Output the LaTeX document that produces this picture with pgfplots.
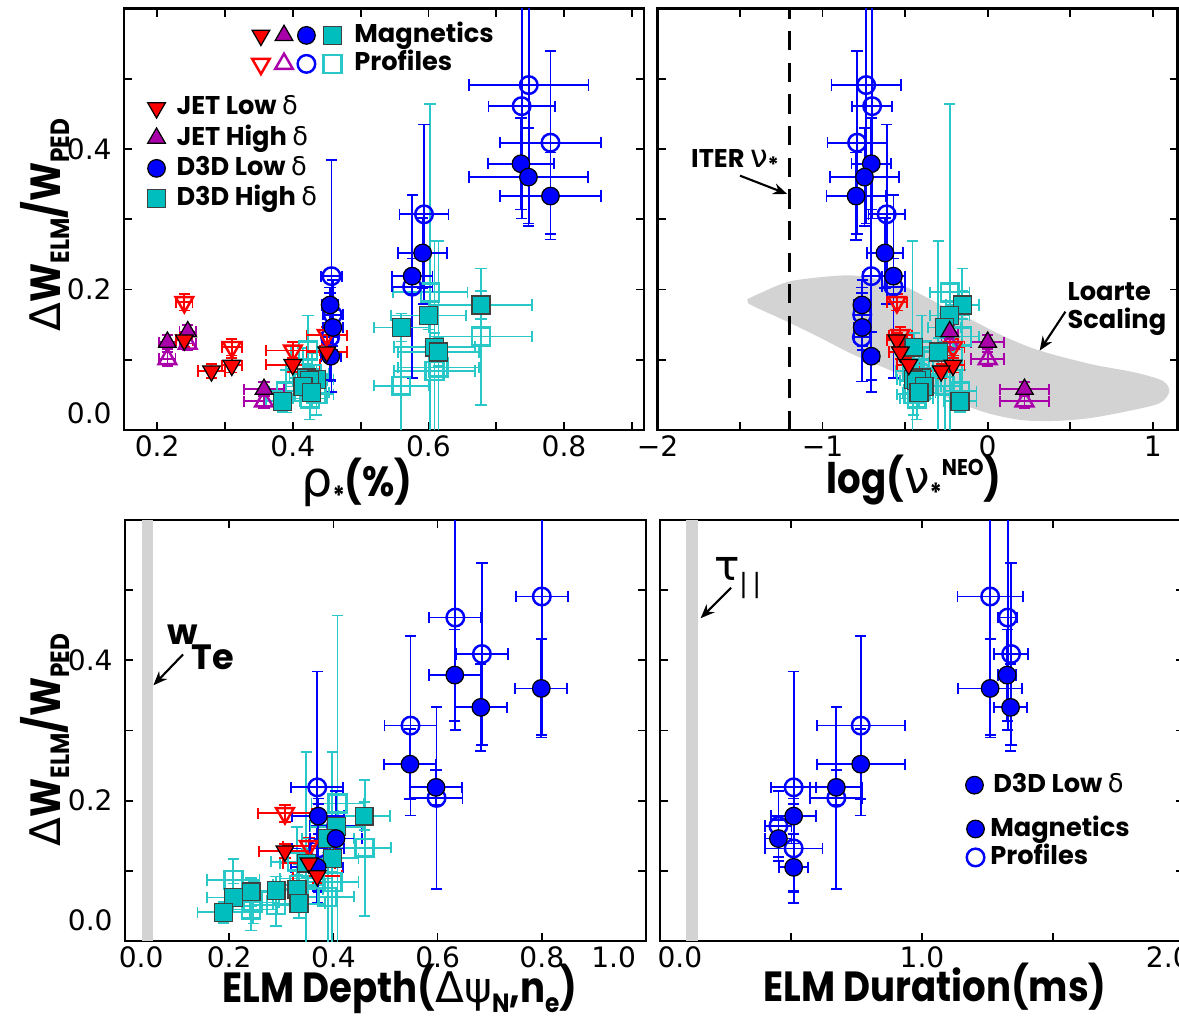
\documentclass[border=0pt]{standalone}
\usepackage{fontspec}
\setmainfont{Poppins}
\newfontfamily\gr{DejaVu Sans}
\newfontfamily\tickfamily{DejaVu Sans}
\newfontfamily\labfam{Poppins}[FakeStretch=0.88]
\usepackage{pgfplots}
\pgfplotsset{compat=1.18}
\usepackage{pgfplotstable}
\usetikzlibrary{arrows.meta}

\definecolor{jhcol}{RGB}{170,0,170}
\definecolor{dhfill}{RGB}{0,190,190}
\definecolor{dhline}{RGB}{40,200,200}
\definecolor{shade}{RGB}{211,211,211}

\newcommand\g[1]{{\gr\mdseries #1}}
\newcommand\ticksz{\tickfamily\fontsize{8}{9}\selectfont}
\newcommand\legfont{\fontsize{7.3}{8}\selectfont\bfseries}
\newcommand\labfont{\labfam\fontsize{12}{14}\selectfont\bfseries}
\newcommand\lo[1]{\raisebox{-0.4ex}{\fontsize{7.5}{7.5}\selectfont #1}}
\newcommand\hi[1]{\raisebox{0.75ex}{\fontsize{6.5}{6.5}\selectfont #1}}
% legend glyph: x, mark, rotate, fill, draw, size, line width
\newcommand{\lmk}[7]{\begin{scope}[shift={(#1,0)},rotate=#3]
  \pgfsetlinewidth{#7}\pgfsetstrokecolor{#5}\pgfsetfillcolor{#4}%
  \pgfsetplotmarksize{#6}\pgfuseplotmark{#2}\end{scope}}

% JET low delta
\pgfplotstableread{
rho    nu     dep   y     erho  enu  edep  eyp   eym
0.240 -0.550 0.307 0.128 0.012 0.06 0.050 0.010 0.010
0.450 -0.529 0.353 0.111 0.030 0.07 0.050 0.010 0.010
0.400 -0.478 0.369 0.093 0.040 0.07 0.047 0.010 0.010
0.310 -0.210 nan   0.092 0.015 0.07 0     0.010 0.010
0.280 -0.282 nan   0.084 0.020 0.07 0     0.010 0.010
}\jlF
\pgfplotstableread{
rho    nu     dep   y     erho  enu  edep  eyp   eym
0.240 -0.550 0.307 0.182 0.012 0.06 0.052 0.012 0.012
0.450 -0.529 0.353 0.135 0.030 0.07 0.050 0.012 0.012
0.400 -0.478 nan   0.113 0.040 0.07 0     0.012 0.012
0.310 -0.210 nan   0.118 0.015 0.07 0     0.012 0.012
}\jlO
% JET high delta
\pgfplotstableread{
rho    nu     y     erho  enu  eyp   eym
0.215  0.000 0.125 0.012 0.10 0.010 0.010
0.245 -0.230 0.140 0.012 0.05 0.010 0.010
0.3575 0.223 0.058 0.030 0.15 0.010 0.010
}\jhF
\pgfplotstableread{
rho    nu     y     erho  enu  eyp   eym
0.215  0.000 0.101 0.012 0.10 0.010 0.010
0.245 -0.230 0.123 0.012 0.05 0.010 0.010
0.3575 0.223 0.041 0.030 0.15 0.010 0.010
}\jhO
% D3D low delta
\pgfplotstableread{
rho    nu     dep   dur   y     erho  enu  edep edur  eyp   eym
0.7365 -0.705 0.633 1.325 0.379 0.049 0.12 0.05 0.035 0.065 0.065
0.7475 -0.746 0.799 1.260 0.360 0.088 0.21 0.05 0.123 0.070 0.070
0.780  -0.797 0.683 1.338 0.333 0.074 0.18 0.05 0.064 0.062 0.062
0.5915 -0.622 0.547 0.766 0.252 0.036 0.11 0.05 0.168 0.050 0.050
0.576  -0.571 0.597 0.673 0.219 0.030 0.07 0.05 0.100 0.025 0.025
0.455  -0.762 0.371 0.510 0.178 0.012 0.05 0.05 0.085 0.025 0.025
0.459  -0.760 0.405 0.452 0.146 0.015 0.05 0.05 0.050 0.026 0.026
0.456  -0.705 0.369 0.510 0.105 0.015 0.05 0.05 0.056 0.034 0.034
}\dlF
\pgfplotstableread{
rho    nu     dep   dur   y     erho  enu  edep edur  eyp   eym
0.7375 -0.700 0.634 1.327 0.461 0.049 0.12 0.05 0.036 0.160 0.160
0.748  -0.736 0.800 1.260 0.491 0.088 0.21 0.05 0.125 0.197 0.197
0.780  -0.791 0.685 1.340 0.409 0.074 0.18 0.05 0.064 0.130 0.130
0.5935 -0.612 0.548 0.766 0.307 0.036 0.11 0.05 0.168 0.128 0.128
0.576  -0.571 0.598 0.673 0.204 0.030 0.07 0.05 0.100 0.130 0.130
0.455  -0.762 0.371 0.510 0.132 0.012 0.05 0.05 0.110 0.063 0.063
0.459  -0.760 0.405 0.452 0.164 0.015 0.05 0.05 0.050 0.050 0.050
0.457  -0.705 0.369 0.510 0.219 0.015 0.05 0.05 0.085 0.165 0.165
}\dlO
% D3D high delta
\pgfplotstableread{
rho    nu     dep   y     erho  enu  edep eyp   eym
0.6775 -0.154 0.459 0.178 0.075 0.10 0.05 0.020 0.020
0.600  -0.230 0.406 0.163 0.055 0.12 0.05 0.020 0.020
0.560  -0.260 0.389 0.146 0.040 0.10 0.05 0.020 0.020
0.609  -0.447 0.398 0.118 0.060 0.10 0.05 0.020 0.020
0.615  -0.300 0.348 0.111 0.060 0.10 0.05 0.020 0.020
0.420  -0.400 0.330 0.074 0.025 0.10 0.05 0.020 0.020
0.435  -0.450 0.290 0.072 0.025 0.10 0.05 0.020 0.020
0.425  -0.430 0.242 0.070 0.025 0.10 0.05 0.020 0.020
0.415  -0.385 0.208 0.062 0.025 0.10 0.05 0.020 0.020
0.428  -0.416 0.334 0.053 0.025 0.10 0.05 0.020 0.020
0.385  -0.168 0.189 0.041 0.025 0.10 0.05 0.015 0.015
}\dhF
\pgfplotstableread{
rho    nu     dep   y     erho  enu  edep eyp   eym
0.6025 -0.230 0.408 0.196 0.055 0.12 0.05 0.268 0.300
0.6775 -0.154 0.460 0.133 0.075 0.10 0.05 0.097 0.097
0.560  -0.260 0.389 0.063 0.040 0.10 0.05 0.070 0.100
0.609  -0.455 0.398 0.084 0.060 0.10 0.05 0.185 0.200
0.615  -0.300 0.348 0.089 0.060 0.10 0.05 0.180 0.200
0.4225 -0.400 0.330 0.113 0.025 0.10 0.05 0.050 0.050
0.435  -0.450 0.290 0.051 0.025 0.10 0.05 0.030 0.030
0.425  -0.430 0.242 0.045 0.025 0.10 0.05 0.030 0.030
0.415  -0.385 0.208 0.087 0.025 0.10 0.05 0.030 0.030
0.428  -0.416 0.334 0.080 0.025 0.10 0.05 0.030 0.030
0.390  -0.168 0.246 0.055 0.025 0.10 0.05 0.030 0.030
}\dhO

\pgfplotsset{
  panel/.style={scale only axis, anchor=south west, ymin=0, ymax=0.6,
    ytick={0.2,0.4}, yticklabels={0.2,0.4}, minor ytick={0.1,0.3,0.5},
    tick align=inside, major tick length=0.08cm, minor tick length=0.08cm,
    axis line style={line width=0.8pt}, every tick/.append style={black, line width=0.5pt},
    tick label style={font=\ticksz}, xticklabel style={inner sep=1.5pt}},
  zerolab/.style={extra y ticks={#1}, extra y tick labels={0.0},
    extra y tick style={major tick length=0pt}},
  eb/.style={error bars/x dir=both, error bars/x explicit, error bars/y dir=both, error bars/y explicit,
    error bars/error bar style={line width=0.5pt},
    error bars/error mark options={rotate=90, mark size=1.6pt, line width=0.5pt}},
  jlFs/.style={red, only marks, mark=triangle*, mark size=2.9pt, mark options={rotate=180, fill=red, draw=black, line width=0.35pt}},
  jlOs/.style={red, only marks, mark=triangle, mark size=2.9pt, mark options={rotate=180, draw=red, line width=0.7pt}},
  jhFs/.style={jhcol, only marks, mark=triangle*, mark size=2.9pt, mark options={fill=jhcol, draw=black, line width=0.35pt}},
  jhOs/.style={jhcol, only marks, mark=triangle, mark size=2.9pt, mark options={draw=jhcol, line width=0.7pt}},
  dlFs/.style={blue, only marks, mark=*, mark size=2.5pt, mark options={fill=blue, draw=black, line width=0.35pt}},
  dlOs/.style={blue, only marks, mark=o, mark size=2.5pt, mark options={draw=blue, line width=0.7pt}},
  dhFs/.style={dhline, only marks, mark=square*, mark size=2.55pt, mark options={fill=dhfill, draw=black!75, line width=0.35pt}},
  dhOs/.style={dhline, only marks, mark=square, mark size=2.55pt, mark options={draw=dhline, line width=0.7pt}},
  leg/.style={legend style={draw=none, fill=none, font=\legfont, inner sep=0pt,
    nodes={inner sep=0pt, text height=5.5pt, text depth=1.5pt, anchor=west}, legend cell align=left}},
  overlay/.style={anchor=south west, scale only axis, hide axis, xmin=0, xmax=1, ymin=0, ymax=1, leg},
}

\begin{document}
\begin{tikzpicture}
\useasboundingbox (0,0) rectangle (11.79cm,10.19cm);

% ---------- top left: rho_*
\begin{axis}[panel, zerolab=0.024, at={(1.24cm,5.89cm)}, width=5.2cm, height=4.215cm,
  xmin=0.151, xmax=0.918, xtick={0.2,0.4,0.6,0.8}, xticklabels={0.2,0.4,0.6,0.8},
  minor xtick={0.3,0.5,0.7,0.9}]
\addplot[dhOs, eb] table[x=rho, y=y, x error=erho, y error plus=eyp, y error minus=eym] {\dhO};
\addplot[dlOs, eb] table[x=rho, y=y, x error=erho, y error plus=eyp, y error minus=eym] {\dlO};
\addplot[jhOs, eb] table[x=rho, y=y, x error=erho, y error plus=eyp, y error minus=eym] {\jhO};
\addplot[jlOs, eb] table[x=rho, y=y, x error=erho, y error plus=eyp, y error minus=eym] {\jlO};
\addplot[dhFs, eb] table[x=rho, y=y, x error=erho, y error plus=eyp, y error minus=eym] {\dhF};
\addplot[dlFs, eb] table[x=rho, y=y, x error=erho, y error plus=eyp, y error minus=eym] {\dlF};
\addplot[jhFs, eb] table[x=rho, y=y, x error=erho, y error plus=eyp, y error minus=eym] {\jhF};
\addplot[jlFs, eb] table[x=rho, y=y, x error=erho, y error plus=eyp, y error minus=eym] {\jlF};
\end{axis}

% series legend
\begin{axis}[overlay, at={(1.24cm,5.89cm)}, width=5.2cm, height=4.215cm,
  legend style={at={(axis description cs:0.044,0.795)}, anchor=north west, row sep=1.6pt, column sep=0.11cm}]
\addlegendimage{legend image code/.code={\lmk{0.1cm}{triangle*}{180}{red}{black}{2.9pt}{0.35pt}}}
\addlegendentry{JET Low \g{δ}}
\addlegendimage{legend image code/.code={\lmk{0.1cm}{triangle*}{0}{jhcol}{black}{2.9pt}{0.35pt}}}
\addlegendentry{JET High \g{δ}}
\addlegendimage{legend image code/.code={\lmk{0.1cm}{*}{0}{blue}{black}{2.5pt}{0.35pt}}}
\addlegendentry{D3D Low \g{δ}}
\addlegendimage{legend image code/.code={\lmk{0.1cm}{square*}{0}{dhfill}{black!75}{2.55pt}{0.35pt}}}
\addlegendentry{D3D High \g{δ}}
\end{axis}

% header legend (Magnetics / Profiles)
\begin{axis}[overlay, at={(1.24cm,5.89cm)}, width=5.2cm, height=4.215cm,
  legend style={at={(axis description cs:0.245,0.967)}, anchor=north west, row sep=1.1pt, column sep=0.13cm}]
\addlegendimage{legend image code/.code={%
  \lmk{0.085cm}{triangle*}{180}{red}{black}{2.9pt}{0.35pt}%
  \lmk{0.316cm}{triangle*}{0}{jhcol}{black}{2.9pt}{0.35pt}%
  \lmk{0.54cm}{*}{0}{blue}{black}{2.5pt}{0.35pt}%
  \lmk{0.80cm}{square*}{0}{dhfill}{black!75}{2.55pt}{0.35pt}}}
\addlegendentry{Magnetics}
\addlegendimage{legend image code/.code={%
  \lmk{0.085cm}{triangle}{180}{red}{red}{2.9pt}{0.7pt}%
  \lmk{0.316cm}{triangle}{0}{jhcol}{jhcol}{2.9pt}{0.7pt}%
  \lmk{0.54cm}{o}{0}{blue}{blue}{2.5pt}{0.7pt}%
  \lmk{0.80cm}{square}{0}{dhline}{dhline}{2.55pt}{0.7pt}}}
\addlegendentry{Profiles}
\end{axis}

% ---------- top right: log nu_*
\begin{axis}[panel, at={(6.575cm,5.89cm)}, width=5.2cm, height=4.215cm, yticklabels={},
  xmin=-2, xmax=1.15, xtick={-2,-1,0,1}, xticklabels={−2,−1,0,1}, minor xtick={-1.5,-0.5,0.5}]
\addplot[fill=shade, draw=none, smooth, forget plot] coordinates {
 (-1.457,0.186) (-1.376,0.195) (-1.19,0.212) (-0.88,0.22) (-0.715,0.217) (-0.51,0.205)
 (-0.30,0.18) (-0.10,0.157) (0.11,0.132) (0.315,0.113) (0.62,0.094) (0.89,0.082)
 (1.06,0.07) (1.10,0.055) (1.04,0.038) (0.83,0.026) (0.62,0.017) (0.42,0.013)
 (0.21,0.014) (0.0,0.024) (-0.2,0.041) (-0.41,0.065) (-0.61,0.087) (-0.82,0.108)
 (-1.02,0.132) (-1.23,0.156) (-1.39,0.173) (-1.45,0.18)} -- cycle;
\addplot[black, line width=0.7pt, dash pattern=on 5.5pt off 3.5pt, forget plot] coordinates {(-1.2,0) (-1.2,0.6)};
\addplot[dhOs, eb] table[x=nu, y=y, x error=enu, y error plus=eyp, y error minus=eym] {\dhO};
\addplot[dlOs, eb] table[x=nu, y=y, x error=enu, y error plus=eyp, y error minus=eym] {\dlO};
\addplot[jhOs, eb] table[x=nu, y=y, x error=enu, y error plus=eyp, y error minus=eym] {\jhO};
\addplot[jlOs, eb] table[x=nu, y=y, x error=enu, y error plus=eyp, y error minus=eym] {\jlO};
\addplot[dhFs, eb] table[x=nu, y=y, x error=enu, y error plus=eyp, y error minus=eym] {\dhF};
\addplot[dlFs, eb] table[x=nu, y=y, x error=enu, y error plus=eyp, y error minus=eym] {\dlF};
\addplot[jhFs, eb] table[x=nu, y=y, x error=enu, y error plus=eyp, y error minus=eym] {\jhF};
\addplot[jlFs, eb] table[x=nu, y=y, x error=enu, y error plus=eyp, y error minus=eym] {\jlF};
\node[font=\legfont] at (axis cs:-1.53,0.383) {ITER \g{\fontsize{9}{9}\selectfont ν}\raisebox{-0.4ex}{\fontsize{6}{6}\selectfont *}};
\draw[-{Stealth[length=4pt,width=3.2pt]}, line width=0.6pt] (axis cs:-1.50,0.362) -- (axis cs:-1.215,0.336);
\node[font=\legfont, align=left, anchor=west, inner sep=0pt] at (axis cs:0.48,0.172)
  {\fontsize{7.3}{9.8}\selectfont Loarte\\Scaling};
\draw[-{Stealth[length=4pt,width=3.2pt]}, line width=0.6pt] (axis cs:0.471,0.1685) -- (axis cs:0.315,0.113);
\end{axis}

% ---------- bottom left: ELM depth
\begin{axis}[panel, zerolab=0.03, at={(1.25cm,0.78cm)}, width=5.21cm, height=4.21cm,
  xmin=0, xmax=1, xtick={0.2,0.4,0.6,0.8}, xticklabels={0.2,0.4,0.6,0.8},
  extra x ticks={0.031,0.938}, extra x tick labels={0.0,1.0},
  extra x tick style={major tick length=0pt}]
\addplot[fill=shade, draw=none, forget plot] coordinates {(0.033,0) (0.054,0) (0.054,0.6) (0.033,0.6)} -- cycle;
\addplot[dhOs, eb] table[x=dep, y=y, x error=edep, y error plus=eyp, y error minus=eym] {\dhO};
\addplot[dlOs, eb] table[x=dep, y=y, x error=edep, y error plus=eyp, y error minus=eym] {\dlO};
\addplot[jlOs, eb] table[x=dep, y=y, x error=edep, y error plus=eyp, y error minus=eym] {\jlO};
\addplot[dhFs, eb] table[x=dep, y=y, x error=edep, y error plus=eyp, y error minus=eym] {\dhF};
\addplot[dlFs, eb] table[x=dep, y=y, x error=edep, y error plus=eyp, y error minus=eym] {\dlF};
\addplot[jlFs, eb] table[x=dep, y=y, x error=edep, y error plus=eyp, y error minus=eym] {\jlF};
\node[font=\fontsize{10}{10}\selectfont\bfseries] at (axis cs:0.11,0.436) {w};
\node[font=\fontsize{10}{10}\selectfont\bfseries] at (axis cs:0.168,0.404) {Te};
\draw[-{Stealth[length=4pt,width=3.2pt]}, line width=0.6pt] (axis cs:0.1115,0.4085) -- (axis cs:0.0545,0.3645);
\end{axis}

% ---------- bottom right: ELM duration
\begin{axis}[panel, at={(6.60cm,0.78cm)}, width=5.24cm, height=4.21cm, yticklabels={},
  xmin=0, xmax=2, xtick={0.5,1,1.5}, xticklabels={{},1.0,{}},
  extra x ticks={0.076,1.94}, extra x tick labels={0.0,2.0},
  extra x tick style={major tick length=0pt}]
\addplot[fill=shade, draw=none, forget plot] coordinates {(0.10,0) (0.145,0) (0.145,0.6) (0.10,0.6)} -- cycle;
\addplot[dlOs, eb] table[x=dur, y=y, x error=edur, y error plus=eyp, y error minus=eym] {\dlO};
\addplot[dlFs, eb] table[x=dur, y=y, x error=edur, y error plus=eyp, y error minus=eym] {\dlF};
\node[font=\gr\fontsize{12}{12}\selectfont] at (axis cs:0.258,0.530) {τ};
\node[font=\gr\fontsize{7.5}{8}\selectfont] at (axis cs:0.344,0.506) {|\,|};
\draw[-{Stealth[length=4pt,width=3.2pt]}, line width=0.6pt] (axis cs:0.271,0.5035) -- (axis cs:0.155,0.460);
\end{axis}

% legends in bottom right
\begin{axis}[overlay, at={(6.60cm,0.78cm)}, width=5.24cm, height=4.21cm,
  legend style={at={(axis description cs:0.582,0.401)}, anchor=north west, column sep=0.1cm}]
\addlegendimage{legend image code/.code={\lmk{0.09cm}{*}{0}{blue}{black}{2.5pt}{0.35pt}}}
\addlegendentry{D3D Low \g{δ}}
\end{axis}
\begin{axis}[overlay, at={(6.60cm,0.78cm)}, width=5.24cm, height=4.21cm,
  legend style={at={(axis description cs:0.584,0.297)}, anchor=north west, row sep=1.1pt, column sep=0.06cm}]
\addlegendimage{legend image code/.code={\lmk{0.09cm}{*}{0}{blue}{black}{2.5pt}{0.35pt}}}
\addlegendentry{Magnetics}
\addlegendimage{legend image code/.code={\lmk{0.09cm}{o}{0}{blue}{blue}{2.5pt}{0.7pt}}}
\addlegendentry{Profiles}
\end{axis}

% axis titles
\node[font=\labfont] at (3.57cm,5.37cm) {\g{\fontsize{14}{14}\selectfont ρ}\lo{*}(\%)};
\node[font=\labfont] at (9.14cm,5.39cm) {log(\g{\fontsize{13}{13}\selectfont ν}\lo{*}\hi{NEO})};
\node[font=\labfont] at (4.00cm,0.30cm) {ELM Depth(\g{\fontsize{12}{12}\selectfont Δψ}\lo{N},n\lo{e})};
\node[font=\labfont] at (9.35cm,0.32cm) {ELM Duration(ms)};
\node[font=\labfont, rotate=90] at (0.45cm,7.94cm) {\g{Δ}W\lo{ELM}/W\lo{PED}};
\node[font=\labfont, rotate=90] at (0.45cm,2.79cm) {\g{Δ}W\lo{ELM}/W\lo{PED}};
\end{tikzpicture}
\end{document}
